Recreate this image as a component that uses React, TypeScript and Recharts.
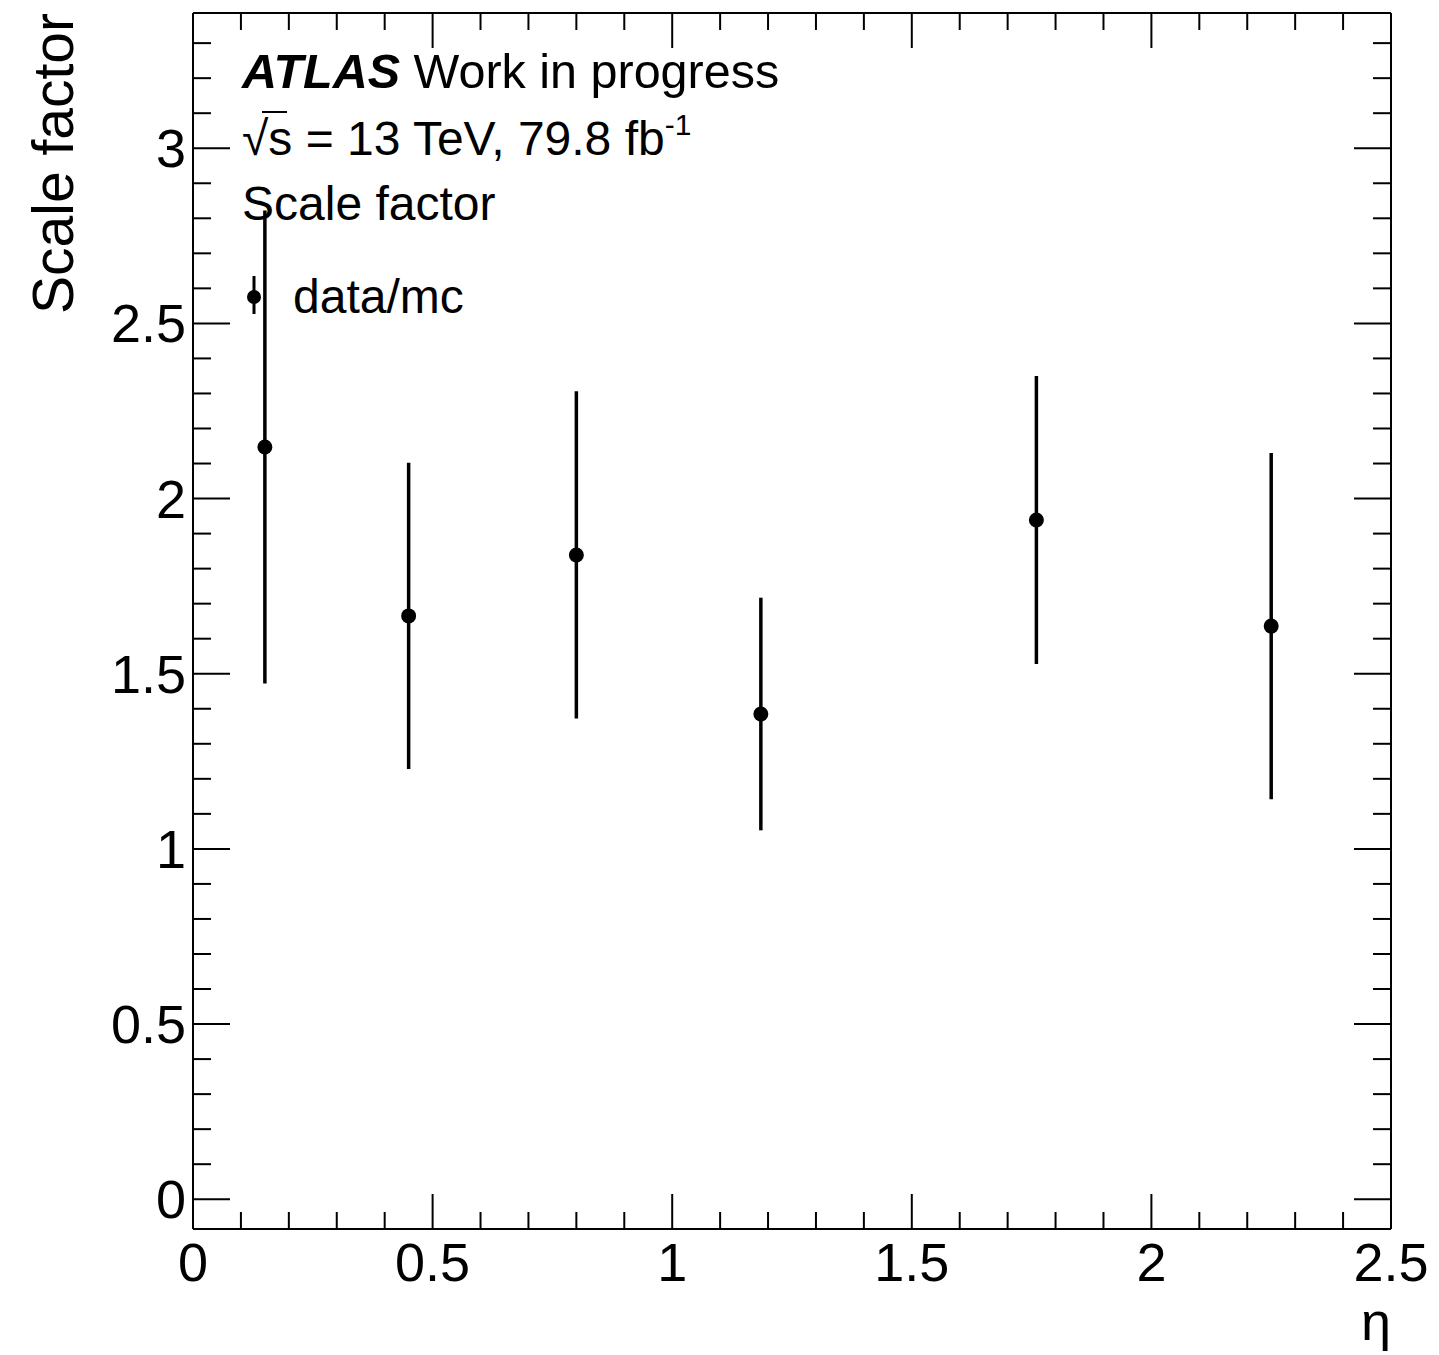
import React from 'react';
import { ScatterChart, Scatter, XAxis, YAxis, ErrorBar, Legend } from 'recharts';

// ---- data ----
const etaValues = [0.15, 0.45, 0.8, 1.185, 1.76, 2.25];
const scaleFactors = [2.147, 1.665, 1.839, 1.385, 1.939, 1.636];
const scaleFactorErrors = [0.675, 0.437, 0.467, 0.332, 0.411, 0.494];

const xTicks = [0, 0.1, 0.2, 0.3, 0.4, 0.5, 0.6, 0.7, 0.8, 0.9, 1, 1.1, 1.2, 1.3, 1.4, 1.5, 1.6, 1.7, 1.8, 1.9, 2, 2.1, 2.2, 2.3, 2.4, 2.5];
const xMajorTicks = [0, 0.5, 1, 1.5, 2, 2.5];
const xTickLabels = ['0', '0.5', '1', '1.5', '2', '2.5'];

const yTicks = [0, 0.1, 0.2, 0.3, 0.4, 0.5, 0.6, 0.7, 0.8, 0.9, 1, 1.1, 1.2, 1.3, 1.4, 1.5, 1.6, 1.7, 1.8, 1.9, 2, 2.1, 2.2, 2.3, 2.4, 2.5, 2.6, 2.7, 2.8, 2.9, 3, 3.1, 3.2, 3.3];
const yMajorTicks = [0, 0.5, 1, 1.5, 2, 2.5, 3];
const yTickLabels = ['0', '0.5', '1', '1.5', '2', '2.5', '3'];

const xDomain = [0, 2.5];
const yDomain = [-0.085, 3.386];

const data = etaValues.map((eta, i) => ({
  eta,
  sf: scaleFactors[i],
  err: [scaleFactorErrors[i], scaleFactorErrors[i]],
}));

const FONT = '"Liberation Sans", Arial, Helvetica, sans-serif';
const TICK_FONT = 54;
const MAJOR = 35;
const MINOR = 17;

const majorIndex = (list: number[], v: number) => list.findIndex((m) => Math.abs(m - v) < 1e-6);

const BottomTick = (props: any) => {
  const { x, y, payload } = props;
  const idx = majorIndex(xMajorTicks, payload.value);
  const len = idx >= 0 ? MAJOR : MINOR;
  return (
    <g>
      <line x1={x} x2={x} y1={y} y2={y - len} stroke="#000" strokeWidth={2} />
      {idx >= 0 && (
        <text x={x} y={y + 52} textAnchor="middle" fontSize={TICK_FONT} fontFamily={FONT} fill="#000">
          {xTickLabels[idx]}
        </text>
      )}
    </g>
  );
};

const TopTick = (props: any) => {
  const { x, y, payload } = props;
  const idx = majorIndex(xMajorTicks, payload.value);
  const len = idx >= 0 ? MAJOR : MINOR;
  return <line x1={x} x2={x} y1={y} y2={y + len} stroke="#000" strokeWidth={2} />;
};

const LeftTick = (props: any) => {
  const { x, y, payload } = props;
  const idx = majorIndex(yMajorTicks, payload.value);
  const len = idx >= 0 ? 37 : 18;
  return (
    <g>
      <line x1={x} x2={x + len} y1={y} y2={y} stroke="#000" strokeWidth={2} />
      {idx >= 0 && (
        <text x={x - 7} y={y + 19} textAnchor="end" fontSize={TICK_FONT} fontFamily={FONT} fill="#000">
          {yTickLabels[idx]}
        </text>
      )}
    </g>
  );
};

const RightTick = (props: any) => {
  const { x, y, payload } = props;
  const idx = majorIndex(yMajorTicks, payload.value);
  const len = idx >= 0 ? 37 : 18;
  return <line x1={x} x2={x - len} y1={y} y2={y} stroke="#000" strokeWidth={2} />;
};

const XTitle = (props: any) => {
  const vb = props.viewBox || {};
  return (
    <text x={vb.x + vb.width} y={vb.y + 111} textAnchor="end" fontSize={TICK_FONT} fontFamily={FONT} fill="#000">
      η
    </text>
  );
};

const YTitle = (props: any) => {
  const vb = props.viewBox || {};
  const x = vb.x + 73;
  const y = vb.y;
  return (
    <text x={x} y={y} transform={`rotate(-90 ${x} ${y})`} textAnchor="end" fontSize={57} fontFamily={FONT} fill="#000">
      Scale factor
    </text>
  );
};

const LegendBlock = () => (
  <svg width={820} height={340} style={{ display: 'block', overflow: 'visible' }}>
    <g fontFamily={FONT} fill="#000">
      <text x={242} y={88} fontSize={48.5}>
        <tspan fontWeight="bold" fontStyle="italic">ATLAS</tspan>
        <tspan> Work in progress</tspan>
      </text>
      <text x={242} y={155} fontSize={48}>
        <tspan>√</tspan>
        <tspan>s = 13 TeV, 79.8 fb</tspan>
        <tspan dy={-20} fontSize={30}>-1</tspan>
      </text>
      <line x1={262} x2={287} y1={112} y2={112} stroke="#000" strokeWidth={2} />
      <text x={242} y={220} fontSize={48}>Scale factor</text>
      <line x1={254} x2={254} y1={276} y2={314} stroke="#000" strokeWidth={3} />
      <circle cx={254} cy={297} r={7} fill="#000" />
      <text x={293} y={313} fontSize={48}>data/mc</text>
    </g>
  </svg>
);

const Dot = (props: any) => <circle cx={props.cx} cy={props.cy} r={7.5} fill="#000" />;

export default function App() {
  return (
    <div style={{ position: 'absolute', left: 0, top: 0, width: 1439, height: 1355, background: '#fff' }}>
      <ScatterChart width={1439} height={1355} margin={{ top: 12, right: 47, bottom: 46, left: 0 }}>
        <XAxis
          xAxisId="b"
          dataKey="eta"
          type="number"
          orientation="bottom"
          domain={xDomain}
          ticks={xTicks}
          interval={0}
          allowDataOverflow
          height={80}
          tickSize={0}
          tickMargin={0}
          tickLine={false}
          axisLine={{ stroke: '#000', strokeWidth: 2 }}
          tick={<BottomTick />}
          label={<XTitle />}
        />
        <XAxis
          xAxisId="t"
          dataKey="eta"
          type="number"
          orientation="top"
          domain={xDomain}
          ticks={xTicks}
          interval={0}
          allowDataOverflow
          height={1}
          tickSize={0}
          tickMargin={0}
          tickLine={false}
          axisLine={{ stroke: '#000', strokeWidth: 2 }}
          tick={<TopTick />}
        />
        <YAxis
          yAxisId="l"
          dataKey="sf"
          type="number"
          orientation="left"
          domain={yDomain}
          ticks={yTicks}
          interval={0}
          allowDataOverflow
          width={193}
          tickSize={0}
          tickMargin={0}
          tickLine={false}
          axisLine={{ stroke: '#000', strokeWidth: 2 }}
          tick={<LeftTick />}
          label={<YTitle />}
        />
        <YAxis
          yAxisId="r"
          dataKey="sf"
          type="number"
          orientation="right"
          domain={yDomain}
          ticks={yTicks}
          interval={0}
          allowDataOverflow
          width={1}
          tickSize={0}
          tickMargin={0}
          tickLine={false}
          axisLine={{ stroke: '#000', strokeWidth: 2 }}
          tick={<RightTick />}
        />
        <Legend
          layout="horizontal"
          verticalAlign="middle"
          align="center"
          wrapperStyle={{ position: 'absolute', left: 0, top: 0, width: 820, height: 340 }}
          content={() => <LegendBlock />}
        />
        <Scatter
          name="data/mc"
          data={data}
          dataKey="sf"
          xAxisId="b"
          yAxisId="l"
          isAnimationActive={false}
          shape={<Dot />}
        >
          <ErrorBar dataKey="err" direction="y" width={0} stroke="#000" strokeWidth={3.5} isAnimationActive={false} />
        </Scatter>
      </ScatterChart>
    </div>
  );
}
